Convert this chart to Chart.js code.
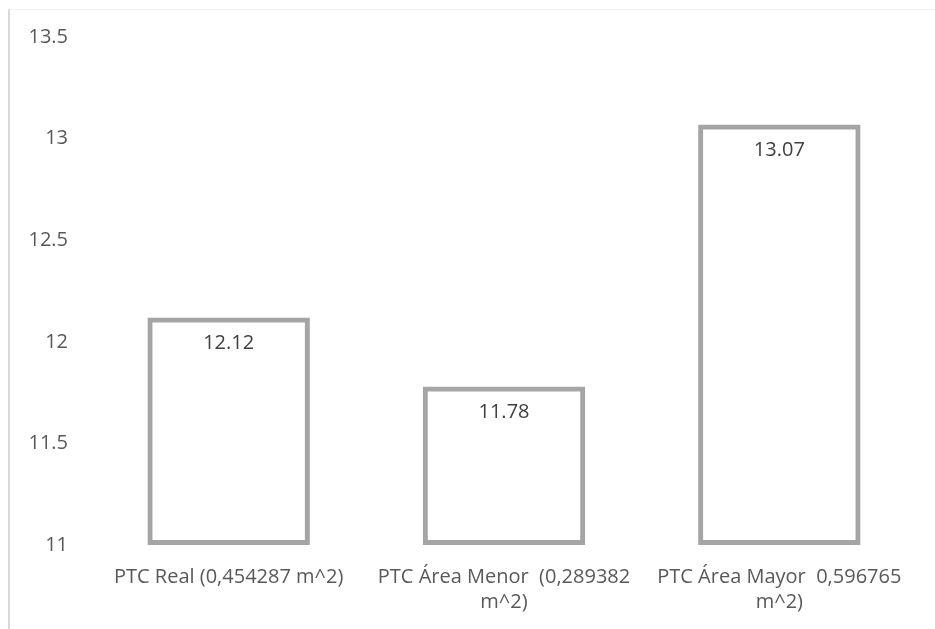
<!DOCTYPE html>
<html lang="es">
<head>
    <meta charset="UTF-8">
    <title>PTC</title>
    <script src="https://cdn.jsdelivr.net/npm/chart.js"></script>
    <style>
        html, body { margin: 0; padding: 0; background: #fff; }
        .wrap { position: relative; width: 935px; height: 629px; }
        .frame {
            position: absolute; left: 8px; top: 9px; right: 0; bottom: 0;
            border-left: 2px solid #d9d9d9; border-top: 1px solid #f3f3f3;
        }
        canvas { position: absolute; left: 0; top: 0; }
    </style>
</head>
<body>
    <div class="wrap">
        <div class="frame"></div>
        <canvas id="chart" width="935" height="629"></canvas>
    </div>

    <script>
        const categories = [
            ['PTC Real (0,454287 m^2)'],
            ['PTC Área Menor  (0,289382', 'm^2)'],
            ['PTC Área Mayor  0,596765', 'm^2)']
        ];
        const values = [12.12, 11.78, 13.07];
        const yTicks = [11, 11.5, 12, 12.5, 13, 13.5];

        const fontFamily = '"Open Sans", Lato, sans-serif';

        // value labels drawn just below the top of each bar
        const valueLabels = {
            id: 'valueLabels',
            afterDatasetsDraw(chart) {
                const ctx = chart.ctx;
                const meta = chart.getDatasetMeta(0);
                ctx.save();
                ctx.font = '20px ' + fontFamily;
                ctx.fillStyle = '#404040';
                ctx.textAlign = 'center';
                ctx.textBaseline = 'middle';
                meta.data.forEach((bar, i) => {
                    ctx.fillText(values[i].toFixed(2), bar.x, bar.y + 26);
                });
                ctx.restore();
            }
        };

        new Chart(document.getElementById('chart'), {
            type: 'bar',
            data: {
                labels: categories,
                datasets: [{
                    data: values,
                    base: 11,
                    backgroundColor: 'rgba(255,255,255,0)',
                    borderColor: '#a5a5a5',
                    borderWidth: 5,
                    borderSkipped: false,
                    barPercentage: 0.59,
                    categoryPercentage: 1
                }]
            },
            options: {
                responsive: false,
                animation: false,
                layout: { padding: { top: 37, right: 18, left: 0, bottom: 0 } },
                plugins: {
                    legend: { display: false },
                    tooltip: { enabled: false }
                },
                scales: {
                    x: {
                        grid: { display: false, drawTicks: false },
                        border: { display: false },
                        ticks: {
                            color: '#595959',
                            padding: 20,
                            maxRotation: 0,
                            autoSkip: false,
                            font: { family: fontFamily, size: 20, lineHeight: 1.25 }
                        },
                        afterFit(scale) { scale.height = 84; }
                    },
                    y: {
                        min: 11,
                        max: 13.5,
                        grid: { display: false, drawTicks: false },
                        border: { display: false },
                        afterBuildTicks(scale) {
                            scale.ticks = yTicks.map(v => ({ value: v }));
                        },
                        ticks: {
                            color: '#595959',
                            padding: 23,
                            callback: v => String(v),
                            font: { family: fontFamily, size: 20 }
                        },
                        afterFit(scale) { scale.width = 91; }
                    }
                }
            },
            plugins: [valueLabels]
        });
    </script>
</body>
</html>
